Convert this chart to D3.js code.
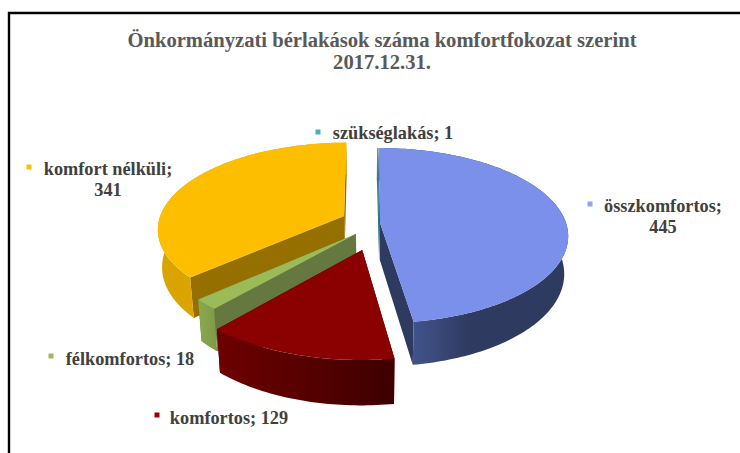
<!DOCTYPE html>
<html><head><meta charset="utf-8">
<script src="https://cdn.jsdelivr.net/npm/d3@7"></script>
<style>html,body{margin:0;padding:0;background:#fff}svg{display:block}text{font-family:"Liberation Serif",serif;font-weight:bold}</style>
</head><body><svg id="c" width="740" height="453"></svg>
<script>
const categories = ["összkomfortos","komfortos","félkomfortos","komfort nélküli","szükséglakás"];
const values = [445,129,18,341,1];
const titleLines = ["Önkormányzati bérlakások száma komfortfokozat szerint","2017.12.31."];

// styles, one entry per category
const topColors = ["#7A90EA","#8B0000","#9BBB59","#FDBE00","#4BACC6"];
const wallColors = ["#2E3A60","#5A0000","#64783F","#957000","#2E7C90"];
const rimFrom = ["#41548C","#6E0000","#8BA851","#D9A300","#2E7C90"];
const rimTo = ["#2E3A60","#3E0000","#7E9A46","#E6AE00","#2E7C90"];
const markerColors = ["#8FA5F5","#A00000","#9BBB59","#FFC000","#4BACC6"];
// explosion of each slice on the disc plane (unit radius)
const explodeX = [0.054,-0.04,-0.074,-0.141,0.05];
const explodeY = [0,-0.301,-0.126,0.083,0];
// label layout: marker x, text lines with centre x, baselines
const labelMarkX = [590,157,51,29,318];
const labelMarkY = [204,415,356,167,132];
const labelLines = [["összkomfortos;","445"],["komfortos; 129"],["félkomfortos; 18"],["komfort nélküli;","341"],["szükséglakás; 1"]];
const labelCX = [663,229,130,108,393];
const labelY0 = [212,424,365,175,139];

const W=740,H=453, cx=370, cy=223, rx=186, ry=85.7, k=1/7, depth=37, shrink=0.98;
const svg=d3.select("#c");
const xs=d3.scaleLinear().domain([-1,1]).range([cx-rx,cx+rx]);
const ys=d3.scaleLinear().domain([-1,1]).range([cy+ry,cy-ry]);
function project(X,Y,low){
  const s=1/(1+k*Y);
  const x=xs(X*s), y=ys(Y*s);
  return low ? [cx+(x-cx)*shrink, y+depth*s] : [x,y];
}
const pie=d3.pie().sort(null).value(d=>d).startAngle(0).endAngle(2*Math.PI);
const arcs=pie(values);
const line=d3.line();
const defs=svg.append("defs");

// frame
svg.append("path").attr("d",`M9 453V13H740`).attr("fill","none").attr("stroke","#000").attr("stroke-width",2.4);

// title
svg.selectAll("text.t").data(titleLines).join("text").attr("class","t")
  .attr("x",382).attr("y",(d,i)=>47+i*22).attr("text-anchor","middle")
  .attr("font-size",20.6).attr("fill","#595959").text(d=>d);

// slices back to front
[3,4,0,2,1].forEach(i=>{
  const a=arcs[i], ox=explodeX[i], oy=explodeY[i];
  const n=Math.max(2,Math.ceil((a.endAngle-a.startAngle)/0.02));
  const angs=d3.range(n+1).map(j=>a.startAngle+(a.endAngle-a.startAngle)*j/n);
  const pt=(t,low)=>project(ox+Math.sin(t),oy+Math.cos(t),low);
  const topArc=angs.map(t=>pt(t,false));
  const lowArc=angs.map(t=>pt(t,true));
  const apex=project(ox,oy,false), apexLow=project(ox,oy,true);
  const g=svg.append("g");
  // radial walls
  [[topArc[0],lowArc[0]],[topArc[n],lowArc[n]]].forEach(([p,q])=>{
    g.append("path").attr("d",line([apex,p,q,apexLow])+"Z").attr("fill",wallColors[i]);
  });
  // rim wall
  const gid="rim"+i;
  const lg=defs.append("linearGradient").attr("id",gid);
  if(i===0){
    lg.attr("gradientUnits","userSpaceOnUse").attr("x1",412).attr("x2",470);
  }
  lg.append("stop").attr("offset",0).attr("stop-color",rimFrom[i]);
  lg.append("stop").attr("offset",1).attr("stop-color",rimTo[i]);
  g.append("path").attr("d",line(topArc.concat(lowArc.slice().reverse()))+"Z").attr("fill",`url(#${gid})`);
  // top face
  g.append("path").attr("d",line([apex].concat(topArc))+"Z").attr("fill",topColors[i]);
});

// labels
categories.forEach((c,i)=>{
  svg.append("rect").attr("x",labelMarkX[i]-2.5).attr("y",labelMarkY[i]-2.5).attr("width",5).attr("height",5).attr("fill",markerColors[i]);
  labelLines[i].forEach((t,j)=>{
    svg.append("text").attr("x",labelCX[i]).attr("y",labelY0[i]+j*20.5).attr("text-anchor","middle")
      .attr("font-size",18.3).attr("fill","#404040").text(t);
  });
});
</script></body></html>
